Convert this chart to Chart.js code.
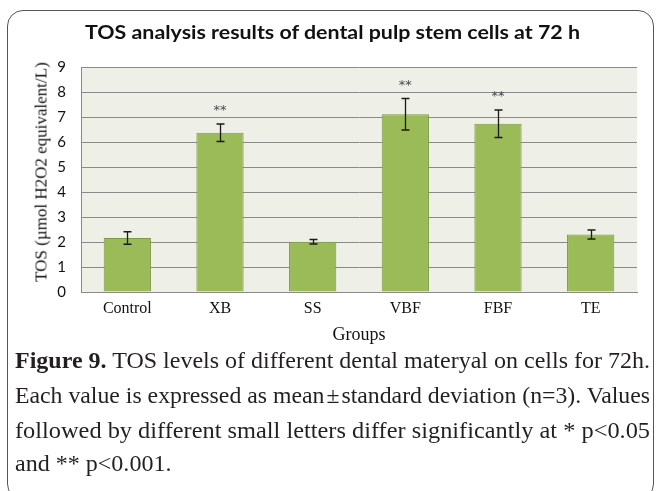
<!DOCTYPE html>
<html>
<head>
<meta charset="utf-8">
<script src="https://cdn.jsdelivr.net/npm/chart.js@4"></script>
<style>
html, body { margin: 0; padding: 0; background: #fff; }
#wrap { position: relative; width: 657px; height: 491px; overflow: hidden; background: #fff; }
#frame { position: absolute; left: 7px; top: 10px; width: 647px; height: 490px; border: 1.5px solid #555; border-radius: 16px; box-sizing: border-box; }
#chart { position: absolute; left: 0; top: 0; }
.txt { position: absolute; white-space: nowrap; transform-origin: 0 0; line-height: 1; }
#title { font-family: Lato, "Open Sans", sans-serif; font-weight: bold; font-size: 19px; color: #111; }
#ytitle { font-family: "Liberation Serif", serif; font-size: 17px; color: #111; left: 41px; top: 171.5px; transform-origin: 50% 50%; transform: translate(-50%, -50%) rotate(-90deg); }
.cap { font-family: "Liberation Serif", serif; font-size: 24px; color: #231f20; }
.cap b { font-weight: bold; }
.pm { margin: 0 2px; }
</style>
</head>
<body>
<div id="wrap">
  <div id="frame"></div>
  <canvas id="chart" width="657" height="491"></canvas>
  <div id="title" class="txt">TOS analysis results of dental pulp stem cells at 72 h</div>
  <div id="ytitle" class="txt">TOS (µmol H2O2 equivalent/L)</div>
  <div class="txt cap" data-j="1"><b>Figure 9.</b> TOS levels of different dental materyal on cells for 72h.</div>
  <div class="txt cap" data-j="1">Each value is expressed as mean<span class="pm">±</span>standard deviation (n=3). Values</div>
  <div class="txt cap" data-j="1">followed by different small letters differ significantly at * p&lt;0.05</div>
  <div class="txt cap" data-j="0">and ** p&lt;0.001.</div>
</div>
<script>
// ---- data ----
const categories = ["Control", "XB", "SS", "VBF", "FBF", "TE"];
const meanValues = [2.16, 6.37, 2.01, 7.11, 6.73, 2.30];
const sdValues = [0.25, 0.35, 0.09, 0.63, 0.55, 0.18];
const significance = ["", "**", "", "**", "**", ""];
const yTickValues = [0, 1, 2, 3, 4, 5, 6, 7, 8, 9];

// ---- text layout (title + caption) ----
function placeText() {
  const title = document.getElementById('title');
  const tw = title.getBoundingClientRect().width;
  const ts = 495 / tw;
  title.style.left = '85px';
  title.style.top = (38.5 - 19 * 0.86) + 'px';
  title.style.transform = 'scaleX(' + ts + ')';

  const caps = Array.from(document.querySelectorAll('.cap'));
  const baselines = [368.5, 403, 437.7, 471];
  const target = 635;
  const widths = caps.map(c => c.getBoundingClientRect().width);
  let sSum = 0, n = 0;
  caps.forEach((c, i) => { if (c.dataset.j === '1') { sSum += target / widths[i]; n++; } });
  const sAvg = sSum / n;
  caps.forEach((c, i) => {
    c.style.left = '15px';
    c.style.top = (baselines[i] - 20.1) + 'px';
    const s = c.dataset.j === '1' ? target / widths[i] : sAvg;
    c.style.transform = 'scaleX(' + s + ')';
  });
}

const plotBackground = {
  id: 'plotBackground',
  beforeDraw(chart) {
    const a = chart.chartArea, ctx = chart.ctx;
    ctx.save();
    ctx.fillStyle = '#eef0e7';
    ctx.fillRect(a.left, a.top, a.right - a.left, a.bottom - a.top);
    ctx.restore();
  }
};

const errorBars = {
  id: 'errorBars',
  afterDatasetsDraw(chart) {
    const meta = chart.getDatasetMeta(0);
    const y = chart.scales.y;
    const ctx = chart.ctx;
    ctx.save();
    meta.data.forEach((bar, i) => {
      const x = Math.round(bar.x) + 0.5;
      const yTop = y.getPixelForValue(meanValues[i] + sdValues[i]);
      const yBot = y.getPixelForValue(meanValues[i] - sdValues[i]);
      ctx.strokeStyle = '#1a1a1a';
      ctx.lineWidth = 1.3;
      ctx.beginPath();
      ctx.moveTo(x, yTop); ctx.lineTo(x, yBot);
      ctx.moveTo(x - 4, yTop); ctx.lineTo(x + 4, yTop);
      ctx.moveTo(x - 4, yBot); ctx.lineTo(x + 4, yBot);
      ctx.stroke();
      if (significance[i]) {
        ctx.fillStyle = '#4a4a55';
        ctx.font = '13px "DejaVu Sans"';
        ctx.textAlign = 'center';
        ctx.textBaseline = 'middle';
        ctx.fillText(significance[i], bar.x, yTop - 13);
      }
    });
    ctx.restore();
  }
};

new Chart(document.getElementById('chart'), {
  type: 'bar',
  data: {
    labels: categories,
    datasets: [{
      data: meanValues,
      backgroundColor: '#9bbb59',
      borderColor: '#7b9a44',
      borderWidth: 1,
      barPercentage: 0.51,
      categoryPercentage: 1
    }]
  },
  options: {
    responsive: false,
    animation: false,
    devicePixelRatio: 1,
    layout: { padding: { left: 0, top: 67, right: 20, bottom: 144 } },
    plugins: { legend: { display: false }, tooltip: { enabled: false }, title: { display: false } },
    scales: {
      x: {
        grid: { display: false, drawTicks: false },
        border: { display: true, color: '#8a8a8a', width: 1 },
        ticks: { padding: 7, color: '#111', font: { family: '"Liberation Serif"', size: 16 } },
        title: { display: true, text: 'Groups', color: '#111', font: { family: '"Liberation Serif"', size: 18 }, padding: { top: 0, bottom: 1 } },
        afterFit(s) { s.height = 55; }
      },
      y: {
        min: 0, max: 9,
        afterBuildTicks(s) { s.ticks = yTickValues.map(v => ({ value: v })); },
        grid: { color: '#8a8a8a', lineWidth: 1, drawTicks: false },
        border: { display: true, color: '#8a8a8a', width: 1 },
        ticks: { padding: 15, color: '#111', font: { family: 'Lato', size: 15 } },
        title: { display: false },
        afterFit(s) { s.width = 81; }
      }
    }
  },
  plugins: [plotBackground, errorBars]
});

placeText();
</script>
</body>
</html>
